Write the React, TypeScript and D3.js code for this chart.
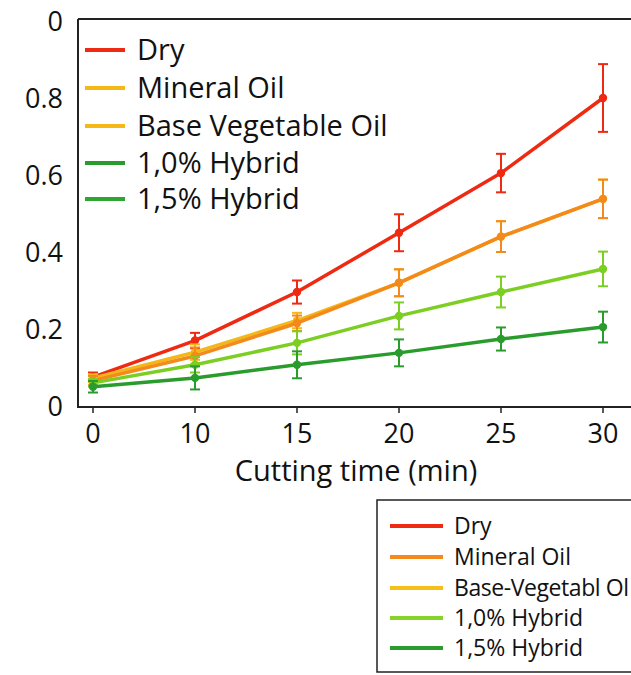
import React from "react";
import * as d3 from "d3";

const times = ["0", "10", "15", "20", "25", "30"];
const yTickValues = [0, 0.2, 0.4, 0.6, 0.8, 1.0];
const yTickLabels = ["0", "0.2", "0.4", "0.6", "0.8", "0"];

const dry = [0.075, 0.17, 0.296, 0.45, 0.605, 0.8];
const dryErr = [0.012, 0.02, 0.03, 0.048, 0.05, 0.088];
const baseVeg = [0.072, 0.14, 0.222, 0.32, 0.44, 0.538];
const baseVegErr = [0.01, 0.02, 0.02, 0.035, 0.04, 0.05];
const mineral = [0.066, 0.13, 0.215, 0.32, 0.44, 0.538];
const mineralErr = [0.012, 0.022, 0.02, 0.035, 0.04, 0.05];
const hybrid10 = [0.06, 0.107, 0.164, 0.234, 0.296, 0.356];
const hybrid10Err = [0.01, 0.02, 0.03, 0.035, 0.04, 0.045];
const hybrid15 = [0.05, 0.073, 0.107, 0.138, 0.174, 0.205];
const hybrid15Err = [0.015, 0.03, 0.035, 0.035, 0.03, 0.04];

const seriesNames = ["Dry", "Base Vegetable Oil", "Mineral Oil", "1,0% Hybrid", "1,5% Hybrid"];
const seriesValues = [dry, baseVeg, mineral, hybrid10, hybrid15];
const seriesErrors = [dryErr, baseVegErr, mineralErr, hybrid10Err, hybrid15Err];
const seriesColors = ["#ee2a12", "#f2b81a", "#f4891c", "#7ccf22", "#2a9c2e"];

const topLegendLabels = ["Dry", "Mineral Oil", "Base Vegetable Oil", "1,0% Hybrid", "1,5% Hybrid"];
const topLegendColors = ["#ee2a12", "#f5b814", "#f5b814", "#2a9c2e", "#2fa632"];
const bottomLegendLabels = ["Dry", "Mineral Oil", "Base-Vegetabl Ol", "1,0% Hybrid", "1,5% Hybrid"];
const bottomLegendColors = ["#ee2a12", "#f4891c", "#f5c01a", "#86d42a", "#2a9c2e"];

const xLabel = "Cutting time (min)";

export default function App() {
  const x = d3.scalePoint<string>().domain(times).range([93, 603]);
  const y = d3.scaleLinear().domain([0, 1]).range([406, 21]);
  const font = "'Open Sans', 'Noto Sans', sans-serif";
  const line = d3
    .line<number>()
    .x((_, i) => x(times[i]) as number)
    .y((d) => y(d));

  const topRows = [50, 88, 126, 163, 199];
  const botRows = [526, 557, 588, 618, 648];

  return (
    <svg
      width={631}
      height={675}
      style={{ position: "fixed", left: 0, top: 0, background: "#fff" }}
      fontFamily={font}
    >
      <rect x={0} y={0} width={631} height={675} fill="#fff" />
      {/* frame */}
      <line x1={78} x2={640} y1={19} y2={19} stroke="#222" strokeWidth={2} />
      <line x1={78} x2={78} y1={19} y2={407} stroke="#222" strokeWidth={2} />
      <line x1={77} x2={640} y1={407} y2={407} stroke="#222" strokeWidth={2} />

      {/* x ticks */}
      {times.map((t) => (
        <g key={t}>
          <line x1={x(t)} x2={x(t)} y1={407} y2={413} stroke="#222" strokeWidth={1.5} />
          <text x={x(t)} y={443} fontSize={27} textAnchor="middle" fill="#111">
            {t}
          </text>
        </g>
      ))}
      <text x={356} y={481} fontSize={29} textAnchor="middle" fill="#111">
        {xLabel}
      </text>

      {/* y tick labels */}
      {yTickValues.map((v, i) => (
        <text key={i} x={63} y={y(v) + 10} fontSize={27} textAnchor="end" fill="#111">
          {yTickLabels[i]}
        </text>
      ))}

      {/* series */}
      {seriesValues.map((vals, si) => (
        <g key={seriesNames[si]}>
          <path
            d={line(vals) || ""}
            fill="none"
            stroke={seriesColors[si]}
            strokeWidth={3.5}
            strokeLinejoin="round"
          />
          {vals.map((v, i) => {
            const cx = x(times[i]) as number;
            const e = seriesErrors[si][i];
            return (
              <g key={i} stroke={seriesColors[si]} strokeWidth={2}>
                <line x1={cx} x2={cx} y1={y(v + e)} y2={y(v - e)} />
                <line x1={cx - 5} x2={cx + 5} y1={y(v + e)} y2={y(v + e)} />
                <line x1={cx - 5} x2={cx + 5} y1={y(v - e)} y2={y(v - e)} />
                <circle cx={cx} cy={y(v)} r={3.2} fill={seriesColors[si]} />
              </g>
            );
          })}
        </g>
      ))}

      {/* top legend */}
      {topLegendLabels.map((l, i) => (
        <g key={l}>
          <line x1={85} x2={125} y1={topRows[i]} y2={topRows[i]} stroke={topLegendColors[i]} strokeWidth={4} />
          <text x={137} y={topRows[i] + 10} fontSize={29} fill="#111">
            {l}
          </text>
        </g>
      ))}

      {/* bottom legend */}
      <rect x={377} y={500} width={270} height={172} fill="#fff" stroke="#222" strokeWidth={1.5} />
      {bottomLegendLabels.map((l, i) => (
        <g key={l}>
          <line x1={390} x2={443} y1={botRows[i]} y2={botRows[i]} stroke={bottomLegendColors[i]} strokeWidth={4} />
          <text x={454} y={botRows[i] + 8} fontSize={23} fill="#111" textLength={i === 2 ? 175 : undefined}>
            {l}
          </text>
        </g>
      ))}
    </svg>
  );
}
